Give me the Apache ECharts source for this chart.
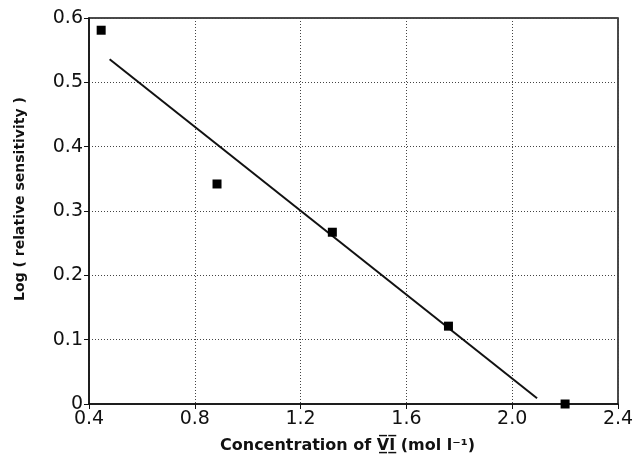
<!DOCTYPE html>
<html>
<head>
<meta charset="utf-8">
<script src="https://cdn.jsdelivr.net/npm/echarts@6/dist/echarts.min.js"></script>
<style>
  html, body { margin: 0; padding: 0; background: #fff; }
  #chart { width: 639px; height: 467px; }
</style>
</head>
<body>
<div id="chart"></div>
<script>
// measured points
const concX = [0.446, 0.884, 1.32, 1.759, 2.20];
const logSens = [0.581, 0.342, 0.267, 0.121, 0.0];
// fitted line end points
const fitX = [0.478, 2.094];
const fitY = [0.536, 0.009];

const chart = echarts.init(document.getElementById('chart'));

const option = {
    animation: false,
    backgroundColor: '#fff',
    grid: {
        left: 89,
        right: 21,
        top: 18,
        bottom: 63,
        show: true,
        borderColor: '#111',
        borderWidth: 1.5
    },
    xAxis: {
        type: 'value',
        min: 0.4,
        max: 2.4,
        interval: 0.4,
        name: 'Concentration of V\u0332\u0305I\u0332\u0305 (mol l\u207B\u00B9)',
        nameLocation: 'middle',
        nameGap: 34,
        nameTextStyle: {
            color: '#111',
            fontFamily: 'DejaVu Sans',
            fontSize: 16,
            fontWeight: 'bold',
            padding: [0, 12, 0, 0]
        },
        axisLine: { lineStyle: { color: '#111', width: 1.5 } },
        axisTick: { show: true, length: 5, lineStyle: { color: '#111' } },
        axisLabel: {
            color: '#111',
            fontFamily: 'DejaVu Sans',
            fontSize: 19,
            margin: 6,
            formatter: function(v) { return v.toFixed(1); }
        },
        splitLine: {
            show: true,
            lineStyle: { color: '#444', type: [1, 2], width: 1 }
        }
    },
    yAxis: {
        type: 'value',
        min: 0,
        max: 0.6,
        interval: 0.1,
        name: 'Log ( relative sensitivity )',
        nameLocation: 'middle',
        nameGap: 62,
        nameTextStyle: {
            color: '#111',
            fontFamily: 'DejaVu Sans',
            fontSize: 14,
            fontWeight: 'bold',
            padding: [0, 0, 0, 24]
        },
        axisLine: { show: true, lineStyle: { color: '#111', width: 1.5 } },
        axisTick: { show: true, length: 5, lineStyle: { color: '#111' } },
        axisLabel: {
            color: '#111',
            fontFamily: 'DejaVu Sans',
            fontSize: 19,
            margin: 6,
            formatter: function(v) { return v === 0 ? '0' : v.toFixed(1); }
        },
        splitLine: {
            show: true,
            lineStyle: { color: '#444', type: [1, 2], width: 1 }
        }
    },
    series: [
        {
            type: 'line',
            data: fitX.map(function(x, i) { return [x, fitY[i]]; }),
            symbol: 'none',
            lineStyle: { color: '#111', width: 2 },
            z: 3
        },
        {
            type: 'scatter',
            data: concX.map(function(x, i) { return [x, logSens[i]]; }),
            symbol: 'rect',
            symbolSize: 9,
            itemStyle: { color: '#000', opacity: 1 },
            z: 4
        }
    ]
};

chart.setOption(option);
</script>
</body>
</html>
